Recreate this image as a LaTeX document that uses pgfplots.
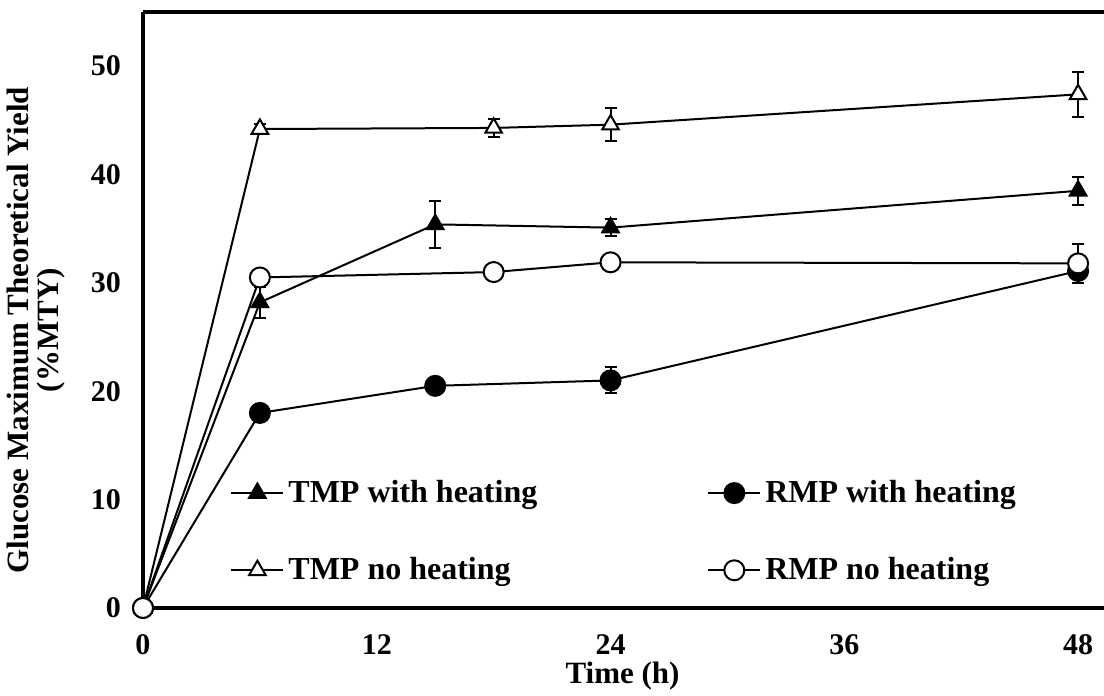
\documentclass[border=0pt]{standalone}
\usepackage{fontspec}
\setmainfont{Liberation Serif}
\usepackage{pgfplots}
\pgfplotsset{compat=1.18}
\usetikzlibrary{calc}

\pgfplotsset{
  myeb/.style={error bars/y dir=both, error bars/y explicit,
    error bars/error mark options={rotate=90, mark size=3pt, line width=1pt},
    error bars/error bar style={line width=1pt}},
}

\begin{document}
\begin{tikzpicture}
\begin{axis}[
  scale only axis, width=480.5pt, height=298pt,
  xmin=0, xmax=49.33, ymin=0, ymax=55,
  xtick={0,12,24,36,48}, ytick={0,10,...,50},
  axis x line*=box, axis y line*=left,
  axis line style={line width=2pt},
  major tick length=0pt,
  xticklabel pos=lower,
  tick label style={font=\fontsize{15}{18}\selectfont\bfseries},
  /pgf/number format/assume math mode=true,
  xticklabel shift=10pt, yticklabel shift=7.5pt,
  xlabel={Time (h)},
  ylabel={Glucose Maximum Theoretical Yield\\(\%MTY)},
  every axis x label/.style={at={(axis description cs:0.499,-0.114)}, anchor=center,
    font=\fontsize{15.5}{16.5}\selectfont\bfseries},
  every axis y label/.style={at={(axis description cs:-0.111,0.466)}, anchor=center,
    rotate=90, align=center, font=\fontsize{15.5}{15}\selectfont\bfseries},
  clip=false,
  every axis plot/.append style={black, line width=1pt},
  legend columns=2,
  legend style={draw=none, fill=none, at={(rel axis cs:0.0843,0.128)}, anchor=west,
    font=\fontsize{16}{19}\selectfont\bfseries, row sep=22pt,
    /tikz/every even column/.append style={column sep=83pt}},
  legend cell align=left,
  legend image code/.code={\draw[mark repeat=2,mark phase=2] plot coordinates {(0pt,0pt)(13pt,0pt)(26pt,0pt)};},
]
\addplot[mark=triangle*, mark size=4.8pt, mark options={solid, fill=black}, myeb] table[y error=e]{
x y e
0 0 0
6 28.2 1.4
15 35.4 2.2
24 35.1 0.8
48 38.5 1.3
};
\addplot[mark=*, mark size=5pt, mark options={solid, fill=black}, myeb] table[y error=e]{
x y e
0 0 0
6 18.0 0.6
15 20.5 0.3
24 21.0 1.2
48 31.1 1.1
};
\addplot[mark=triangle*, mark size=4.8pt, mark options={solid, fill=white}, myeb] table[y error=e]{
x y e
0 0 0
6 44.2 0.5
18 44.3 0.8
24 44.6 1.5
48 47.4 2.1
};
\addplot[mark=*, mark size=5pt, mark options={solid, fill=white}, myeb] table[y error=e]{
x y e
0 0 0
6 30.5 0.4
18 31.0 0.4
24 31.9 0.5
48 31.8 1.8
};
\legend{TMP with heating, RMP with heating, TMP no heating, RMP no heating}
\coordinate (O) at (rel axis cs:0,0);
\coordinate (T) at (rel axis cs:1,1);
\end{axis}
\pgfresetboundingbox
\path[use as bounding box] ($(O)+(-71.5pt,-44pt)$) rectangle ($(T)+(0pt,6pt)$);
\end{tikzpicture}
\end{document}
